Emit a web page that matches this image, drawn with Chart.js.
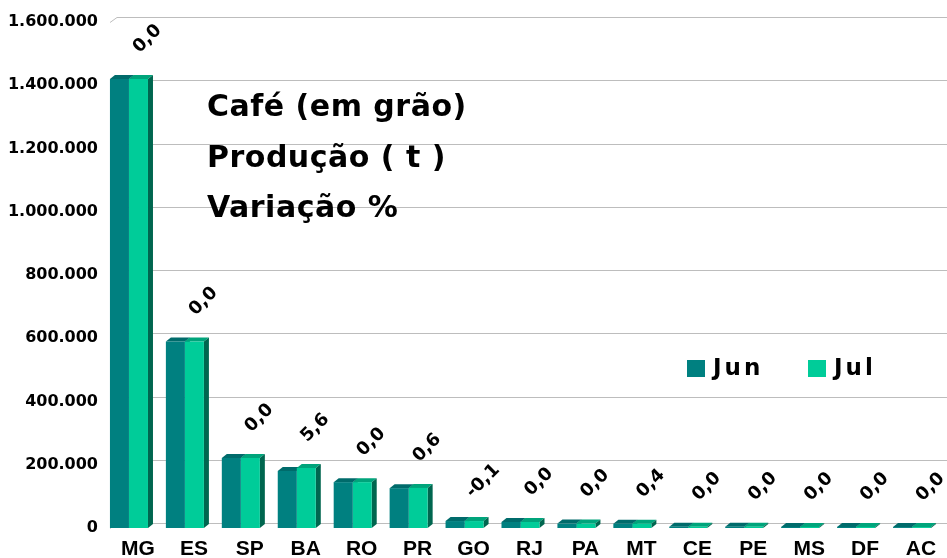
<!DOCTYPE html>
<html>
<head>
<meta charset="utf-8">
<script src="https://cdn.jsdelivr.net/npm/chart.js@4.4.0/dist/chart.umd.min.js"></script>
<style>
  html, body { margin: 0; padding: 0; background: #fff; }
</style>
</head>
<body>
<canvas id="chart" width="947" height="558"></canvas>
<script>
// dados (t)
const categories = ['MG', 'ES', 'SP', 'BA', 'RO', 'PR', 'GO', 'RJ', 'PA', 'MT', 'CE', 'PE', 'MS', 'DF', 'AC'];
const jun = [1420000, 590000, 221000, 180000, 145000, 126000, 22000, 19000, 14000, 13500, 4000, 4000, 3500, 3500, 3000];
const jul = [1420000, 590000, 221000, 190000, 145000, 126800, 21980, 19000, 14000, 13550, 4000, 4000, 3500, 3500, 3000];
const variacao = [0.0, 0.0, 0.0, 5.6, 0.0, 0.6, -0.1, 0.0, 0.0, 0.4, 0.0, 0.0, 0.0, 0.0, 0.0];
const titleLines = ['Café (em grão)', 'Produção ( t )', 'Variação %'];
const yTicks = [0, 200000, 400000, 600000, 800000, 1000000, 1200000, 1400000, 1600000];

const FONT = '"DejaVu Sans", sans-serif';
const colors = {
    jun: '#008080', junTop: '#006B6B',
    jul: '#00CC99', julTop: '#00A47B', julSide: '#00664F'
};
const DX = 5, DY = -4; // profundidade 3D

function fmt(v) {
    return v.toString().replace(/\B(?=(\d{3})+(?!\d))/g, '.');
}

// grade no plano de fundo + faces 3D das barras
const back3d = {
    id: 'back3d',
    beforeDatasetsDraw(chart) {
        const ctx = chart.ctx;
        const y = chart.scales.y;
        const area = chart.chartArea;
        ctx.save();
        ctx.strokeStyle = '#bdbdbd';
        ctx.lineWidth = 1;
        yTicks.forEach(t => {
            const py = Math.round(y.getPixelForValue(t)) + 0.5;
            ctx.beginPath();
            ctx.moveTo(area.left + 9, py);
            ctx.lineTo(area.left + 16, py - 5);
            ctx.lineTo(chart.width, py - 5);
            ctx.stroke();
        });

        chart.data.datasets.forEach((ds, di) => {
            const meta = chart.getDatasetMeta(di);
            meta.data.forEach(bar => {
                const l = bar.x - bar.width / 2, r = bar.x + bar.width / 2;
                // topo
                ctx.fillStyle = di === 0 ? colors.junTop : colors.julTop;
                ctx.beginPath();
                ctx.moveTo(l, bar.y);
                ctx.lineTo(l + DX, bar.y + DY);
                ctx.lineTo(r + DX, bar.y + DY);
                ctx.lineTo(r, bar.y);
                ctx.closePath();
                ctx.fill();
                // lateral
                ctx.fillStyle = di === 0 ? colors.junTop : colors.julSide;
                ctx.beginPath();
                ctx.moveTo(r, bar.y);
                ctx.lineTo(r + DX, bar.y + DY);
                ctx.lineTo(r + DX, bar.base + DY);
                ctx.lineTo(r, bar.base);
                ctx.closePath();
                ctx.fill();
            });
        });
        ctx.restore();
    }
};

// rótulos de variação, título e legenda
const extras = {
    id: 'extras',
    afterDraw(chart) {
        const ctx = chart.ctx;
        ctx.save();
        ctx.fillStyle = '#000';

        // variação %
        const meta = chart.getDatasetMeta(1);
        ctx.font = 'bold 18px ' + FONT;
        ctx.textAlign = 'center';
        ctx.textBaseline = 'middle';
        meta.data.forEach((bar, i) => {
            const txt = variacao[i].toFixed(1).replace('.', ',');
            ctx.save();
            ctx.translate(bar.x + 9, bar.y - 40);
            ctx.rotate(-Math.PI / 4);
            ctx.fillText(txt, 0, 0);
            ctx.restore();
        });

        // título
        ctx.textAlign = 'left';
        ctx.textBaseline = 'alphabetic';
        ctx.font = 'bold 30px ' + FONT;
        ctx.letterSpacing = '0.5px';
        const baselines = [116, 167, 217];
        titleLines.forEach((line, i) => {
            ctx.fillText(line, 207, baselines[i]);
        });

        // legenda
        ctx.font = 'bold 23px ' + FONT;
        ctx.letterSpacing = '3px';
        ctx.textBaseline = 'middle';
        const legendX = [687, 808];
        chart.data.datasets.forEach((ds, i) => {
            ctx.fillStyle = ds.backgroundColor;
            ctx.fillRect(legendX[i], 360, 18, 17);
            ctx.fillStyle = '#000';
            ctx.fillText(ds.label, legendX[i] + 26, 369);
        });
        ctx.restore();
    }
};

new Chart(document.getElementById('chart'), {
    type: 'bar',
    data: {
        labels: categories,
        datasets: [{
            label: 'Jun',
            data: jun,
            backgroundColor: colors.jun,
            barPercentage: 1.0,
            categoryPercentage: 0.68
        }, {
            label: 'Jul',
            data: jul,
            backgroundColor: colors.jul,
            barPercentage: 1.0,
            categoryPercentage: 0.68
        }]
    },
    options: {
        responsive: false,
        animation: false,
        layout: {
            padding: { top: 22, right: 7, left: 0, bottom: 0 }
        },
        plugins: {
            legend: { display: false },
            tooltip: { enabled: false }
        },
        scales: {
            x: {
                grid: { display: false, drawTicks: false },
                border: { display: false },
                ticks: {
                    color: '#000',
                    font: { family: '"Liberation Sans", Arial, sans-serif', size: 21, weight: 'bold' },
                    padding: 9,
                    labelOffset: 9,
                    autoSkip: false,
                    maxRotation: 0
                },
                afterFit(scale) { scale.height = 30; }
            },
            y: {
                min: 0,
                max: 1600000,
                grid: { display: false, drawTicks: false },
                border: { display: false },
                ticks: {
                    stepSize: 200000,
                    color: '#000',
                    padding: 3,
                    font: { family: FONT, size: 16, weight: 'bold' },
                    callback: v => fmt(v)
                },
                afterFit(scale) { scale.width = 101; }
            }
        }
    },
    plugins: [back3d, extras]
});
</script>
</body>
</html>
